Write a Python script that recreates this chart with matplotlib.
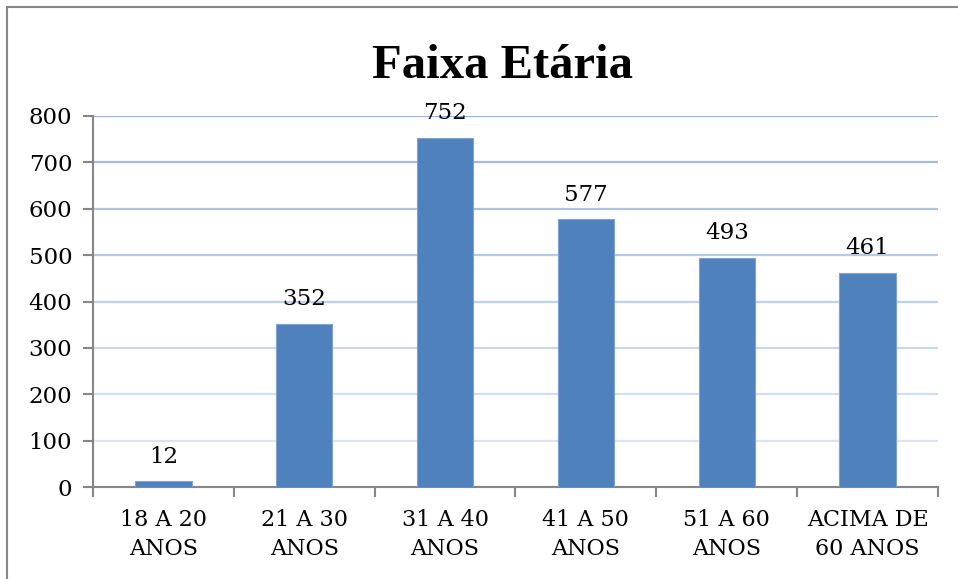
import numpy as np
import matplotlib.pyplot as plt
from matplotlib.patches import Rectangle
from matplotlib.colors import to_rgb

categories = ["18 A 20\nANOS", "21 A 30\nANOS", "31 A 40\nANOS",
              "41 A 50\nANOS", "51 A 60\nANOS", "ACIMA DE\n60 ANOS"]
values = [12, 352, 752, 577, 493, 461]
yticks = [0, 100, 200, 300, 400, 500, 600, 700, 800]

W, H = 958, 579
fig = plt.figure(figsize=(W / 100, H / 100), dpi=100)
ax = fig.add_axes([93 / W, 1 - 487 / H, (938 - 93) / W, (487 - 116) / H])

serif = ["DejaVu Serif"]
x = np.arange(len(categories))
bars = ax.bar(x, values, width=0.4, color="#4F81BD", edgecolor="#7FA2D0",
              linewidth=0.8, zorder=3)
for xi, v in zip(x, values):
    ax.annotate(str(v), (xi, v), xytext=(0, 10), textcoords="offset points",
                ha="center", va="bottom", fontsize=16.5, family=serif)

ax.set_xlim(-0.5, len(categories) - 0.5)
ax.set_ylim(0, 800)
ax.set_yticks(yticks)
ax.set_yticklabels([str(t) for t in yticks], fontsize=16.5, family=serif)
ax.set_xticks(x)
ax.set_xticklabels(categories, fontsize=16, family=serif, linespacing=1.4)
ax.set_xticks(np.arange(len(categories) + 1) - 0.5, minor=True)
ax.tick_params(axis="x", which="major", length=0, pad=16)
ax.tick_params(axis="x", which="minor", length=7, width=1.5, color="#868686")
ax.tick_params(axis="y", length=7, width=1.5, color="#868686", pad=8)

ax.grid(axis="y", linewidth=1.6, zorder=0)
top = np.array(to_rgb("#9AB5DF"))
bot = np.array(to_rgb("#E4EBF6"))
for i, gl in enumerate(ax.get_ygridlines()):
    f = i / (len(yticks) - 1)
    gl.set_color(bot + (top - bot) * f)

for side in ("top", "right"):
    ax.spines[side].set_visible(False)
for side in ("left", "bottom"):
    ax.spines[side].set_color("#868686")
    ax.spines[side].set_linewidth(1.5)

fig.text(502 / W, 1 - 66 / H, "Faixa Etária", ha="center", va="center",
         fontsize=35, fontweight="bold", family=["Liberation Serif"])

fig.patches.append(Rectangle((7 / W, -0.2), 1.2, 1 - 7 / H + 0.2,
                             transform=fig.transFigure, fill=False,
                             edgecolor="#868686", linewidth=1.5))

fig.savefig("out.png", dpi=100)
